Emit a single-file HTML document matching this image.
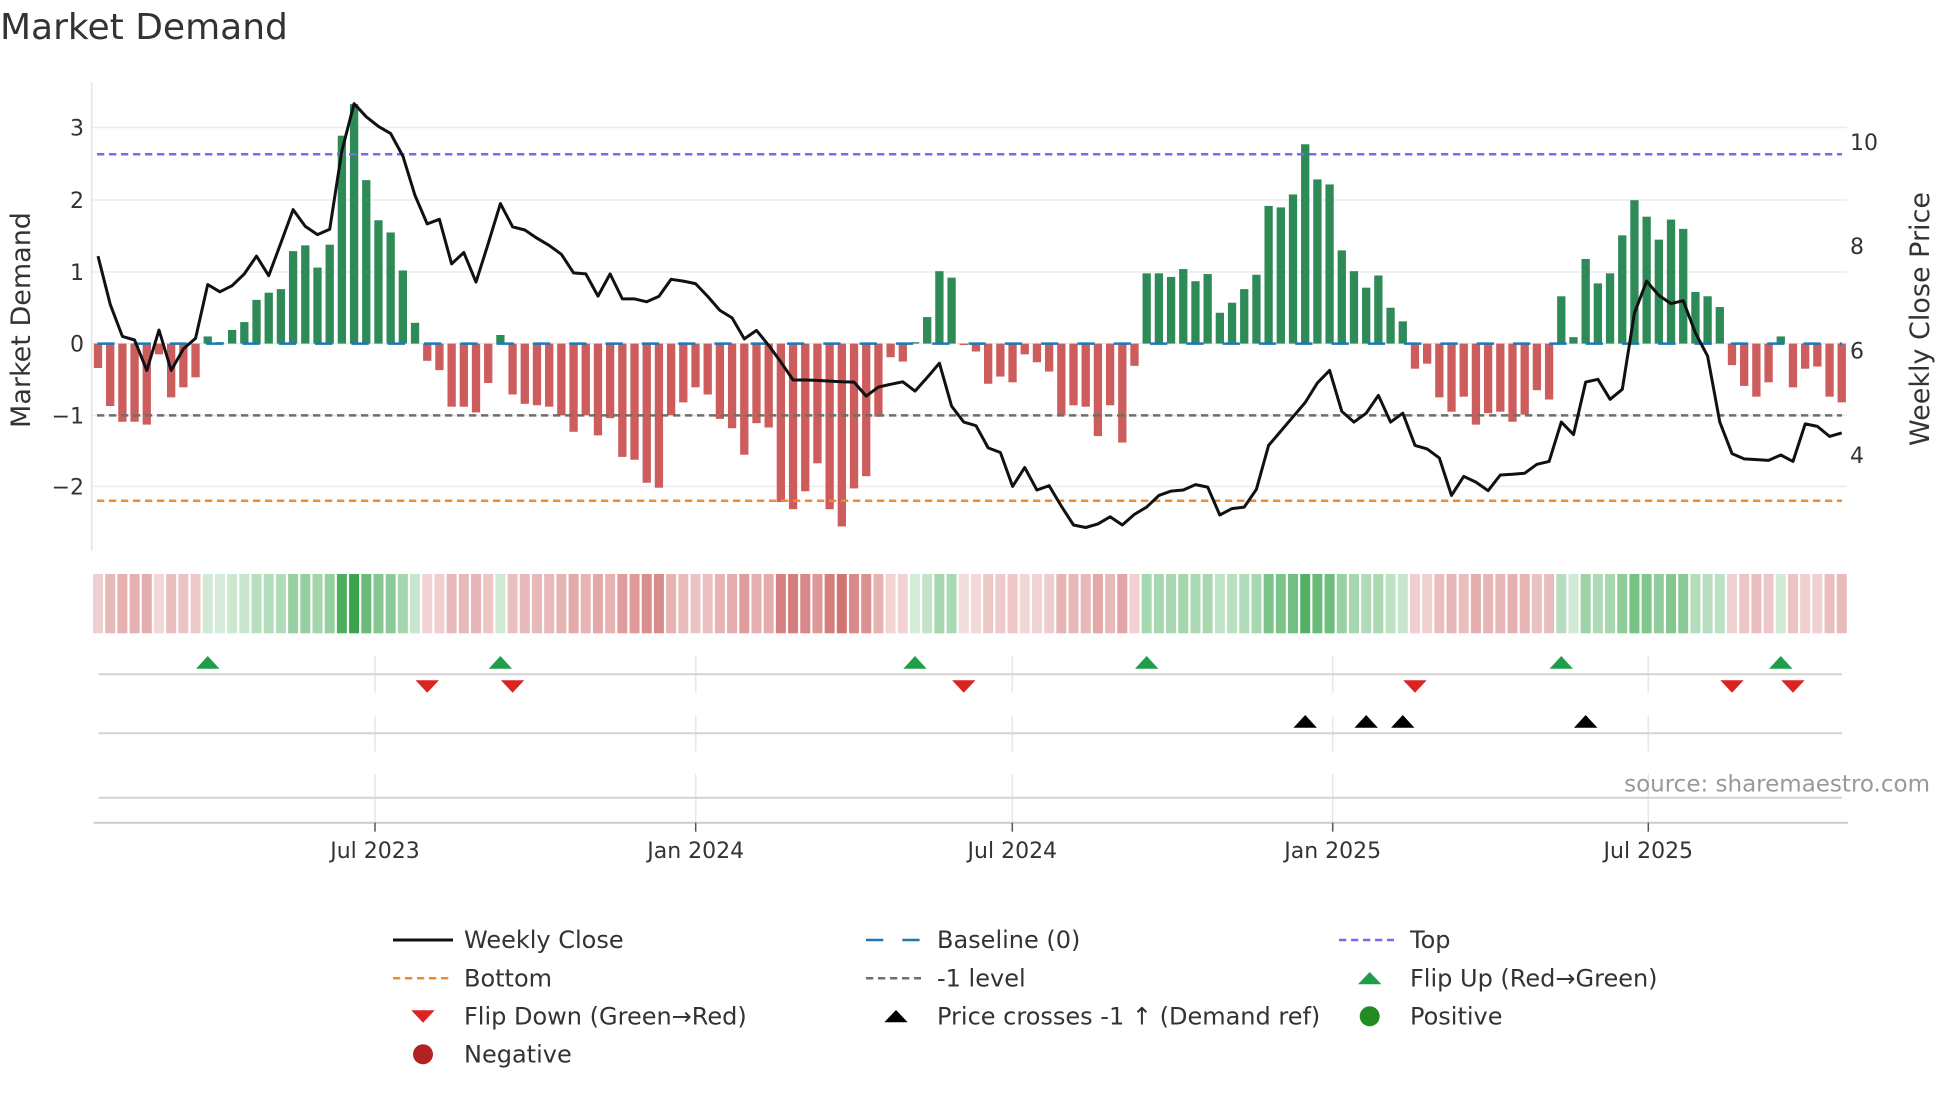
<!DOCTYPE html>
<html><head><meta charset="utf-8"><style>
html,body{margin:0;padding:0;background:#fff;}
svg{display:block;font-family:"DejaVu Sans","Liberation Sans",sans-serif;}
</style></head><body>
<svg id="c" width="1960" height="1102" viewBox="0 0 1960 1102" xmlns="http://www.w3.org/2000/svg">
<rect width="1960" height="1102" fill="#fff"/>
<text x="0" y="39" font-size="36" fill="#333">Market Demand</text>
<g id="grid" stroke="#ececec" stroke-width="1.5">
<line x1="92" y1="127.5" x2="1847" y2="127.5"/><line x1="92" y1="200" x2="1847" y2="200"/><line x1="92" y1="272" x2="1847" y2="272"/><line x1="92" y1="343.6" x2="1847" y2="343.6"/><line x1="92" y1="415.4" x2="1847" y2="415.4"/><line x1="92" y1="486.4" x2="1847" y2="486.4"/>
</g>
<line x1="91.7" y1="82" x2="91.7" y2="551" stroke="#e4e4e4" stroke-width="1.5"/>
<g font-size="22" fill="#333" text-anchor="end">
<text x="84" y="135.5">3</text><text x="84" y="208">2</text><text x="84" y="280">1</text><text x="84" y="351.6">0</text><text x="84" y="423.4">−1</text><text x="84" y="494.4">−2</text>
</g>
<g font-size="22" fill="#333">
<text x="1850" y="149.8">10</text><text x="1850" y="254">8</text><text x="1850" y="358.7">6</text><text x="1850" y="463">4</text>
</g>
<text transform="translate(30,320) rotate(-90)" font-size="27" fill="#333" text-anchor="middle">Market Demand</text>
<text transform="translate(1929,319) rotate(-90)" font-size="27" fill="#333" text-anchor="middle">Weekly Close Price</text>
<g id="bars"></g>
<g id="lvl">
<line x1="97" y1="154.3" x2="1842" y2="154.3" stroke="#7b68ee" stroke-width="2.5" stroke-dasharray="7.3,4.7"/>
<line x1="97" y1="500.7" x2="1842" y2="500.7" stroke="#ef8b2c" stroke-width="2.5" stroke-dasharray="7.3,4.7"/>
<line x1="97" y1="415.4" x2="1842" y2="415.4" stroke="#6e6e6e" stroke-width="2.5" stroke-dasharray="7.3,4.7"/>
<line x1="97.3" y1="343.6" x2="1842" y2="343.6" stroke="#1f77b4" stroke-width="2.5" stroke-dasharray="17.3,19"/>
</g>
<polyline id="price" fill="none" stroke="#111" stroke-width="3" stroke-linejoin="round"/>
<g id="heat"></g>
<g stroke="#e6e6ee" stroke-width="1.5" id="vg"></g>
<g stroke="#d4d4d4" stroke-width="2">
<line x1="98.6" y1="674.3" x2="1842" y2="674.3"/><line x1="98.6" y1="733.3" x2="1842" y2="733.3"/><line x1="98.6" y1="797.7" x2="1842" y2="797.7"/>
<line x1="93.6" y1="822.7" x2="1848" y2="822.7" stroke="#cccccc"/>
</g>
<g id="ticks" font-size="22" fill="#333" text-anchor="middle"></g>
<g id="marks"></g>
<text x="1930" y="791.7" font-size="23" fill="#999" text-anchor="end">source: sharemaestro.com</text>
<g font-size="24" fill="#333">
<line x1="393" y1="940" x2="453" y2="940" stroke="#111" stroke-width="3"/><text x="464" y="948">Weekly Close</text>
<line x1="393" y1="978.3" x2="453" y2="978.3" stroke="#ef8b2c" stroke-width="2.5" stroke-dasharray="7.3,4.7"/><text x="464" y="986.3">Bottom</text>
<polygon points="411.3,1010.3 434.7,1010.3 423,1022.7" fill="#dd2222"/><text x="464" y="1024.3">Flip Down (Green→Red)</text>
<circle cx="423" cy="1054.3" r="10" fill="#b22222"/><text x="464" y="1062.3">Negative</text>
<line x1="866" y1="940" x2="921" y2="940" stroke="#1f77b4" stroke-width="2.5" stroke-dasharray="17.3,19"/><text x="937" y="948">Baseline (0)</text>
<line x1="866" y1="978.3" x2="921" y2="978.3" stroke="#6e6e6e" stroke-width="2.5" stroke-dasharray="7.3,4.7"/><text x="937" y="986.3">-1 level</text>
<polygon points="884.3,1022.3 907.7,1022.3 896,1010" fill="#000"/><text x="937" y="1024.3">Price crosses -1 ↑ (Demand ref)</text>
<line x1="1339" y1="940" x2="1394" y2="940" stroke="#7b68ee" stroke-width="2.5" stroke-dasharray="7.3,4.7"/><text x="1410" y="948">Top</text>
<polygon points="1358,984.3 1381.4,984.3 1369.7,972" fill="#1f9e49"/><text x="1410" y="986.3">Flip Up (Red→Green)</text>
<circle cx="1369.7" cy="1016.3" r="10" fill="#228b22"/><text x="1410" y="1024.3">Positive</text>
</g>
</svg>
<script>
var NS="http://www.w3.org/2000/svg";
function el(t,a,p){var e=document.createElementNS(NS,t);for(var k in a)e.setAttribute(k,a[k]);document.getElementById(p).appendChild(e);return e;}
var v=[-0.34,-0.87,-1.09,-1.09,-1.13,-0.15,-0.75,-0.61,-0.47,0.1,0.02,0.19,0.3,0.61,0.71,0.76,1.29,1.37,1.06,1.38,2.9,3.34,2.28,1.72,1.55,1.02,0.29,-0.24,-0.37,-0.88,-0.88,-0.96,-0.55,0.12,-0.71,-0.84,-0.86,-0.88,
-1.0,-1.23,-1.0,-1.28,-1.04,-1.58,-1.62,-1.94,-2.01,-1.0,-0.82,-0.61,-0.71,-1.05,-1.18,-1.55,-1.11,-1.17,-2.21,-2.31,-2.06,-1.67,-2.31,-2.55,-2.02,-1.85,-1.02,-0.19,-0.25,0.02,0.37,1.01,0.92,-0.02,-0.11,-0.56,
-0.46,-0.54,-0.15,-0.26,-0.39,-1.0,-0.86,-0.88,-1.29,-0.86,-1.38,-0.31,0.98,0.98,0.93,1.04,0.87,0.97,0.43,0.57,0.76,0.96,1.92,1.9,2.08,2.78,2.29,2.22,1.3,1.01,0.78,0.95,0.5,0.31,-0.35,-0.28,-0.75,-0.95,
-0.74,-1.13,-0.97,-0.95,-1.09,-0.99,-0.65,-0.78,0.66,0.09,1.18,0.84,0.98,1.51,2.0,1.77,1.45,1.73,1.6,0.72,0.66,0.51,-0.3,-0.59,-0.74,-0.54,0.1,-0.61,-0.35,-0.32,-0.74,-0.82];
var z=[465,600,690,700,785,672,785,725,695,545,565,548,515,465,520,428,335,382,405,390,170,38,75,102,122,185,295,375,362,487,455,538,430,318,383,392,415,435,
460,512,515,577,515,585,585,593,578,530,535,542,578,617,638,697,673,715,762,812,812,813,815,817,818,857,832,824,817,843,805,765,885,930,940,1002,
1015,1110,1057,1120,1108,1165,1218,1225,1215,1195,1218,1188,1168,1135,1123,1120,1105,1112,1190,1172,1168,1118,995,955,915,875,820,785,900,930,905,855,930,905,995,1005,1030,1135,
1082,1098,1122,1078,1076,1073,1048,1040,930,965,818,810,866,838,625,535,575,598,590,680,745,930,1018,1033,1035,1037,1022,1040,935,942,970,960];
function X(i){return 98+12.194*i;}
var pts=[];
for(var i=0;i<v.length;i++){
 var x=X(i),y0=343.6,y1=343.6-71.7*v[i];
 el("rect",{x:(x-4.15).toFixed(2),y:Math.min(y0,y1).toFixed(2),width:8.3,height:Math.abs(y1-y0).toFixed(2),fill:v[i]>=0?"#2e8b57":"#cd5c5c"},"bars");
 var r,g,b,t;
 if(v[i]>=0){t=Math.min(1,0.2+0.75*v[i]/3.34);r=46;g=160;b=67;}else{t=Math.min(1,0.2+0.62*(-v[i])/2.55);r=200;g=85;b=85;}
 var c="rgb("+Math.round(255+(r-255)*t)+","+Math.round(255+(g-255)*t)+","+Math.round(255+(b-255)*t)+")";
 el("rect",{x:(x-5).toFixed(2),y:574,width:10,height:59.3,fill:c},"heat");
 if(i<z.length)pts.push(x.toFixed(1)+","+(90+z[i]/2.8).toFixed(1));
}
document.getElementById("price").setAttribute("points",pts.join(" "));
var tk=[[375,"Jul 2023"],[695.7,"Jan 2024"],[1012.3,"Jul 2024"],[1332.7,"Jan 2025"],[1648.3,"Jul 2025"]];
tk.forEach(function(t){
 [[656,692.7],[716,751.7],[774,822.7]].forEach(function(s){el("line",{x1:t[0],x2:t[0],y1:s[0],y2:s[1]},"vg");});
 el("line",{x1:t[0],x2:t[0],y1:822.7,y2:831.7,stroke:"#555","stroke-width":1.5},"ticks");
 var e=el("text",{x:t[0],y:858},"ticks");e.textContent=t[1];
});
function up(i,y,col){var x=X(i);el("polygon",{points:(x-11.7)+","+(y+12.7)+" "+(x+11.7)+","+(y+12.7)+" "+x+","+y,fill:col},"marks");}
function dn(i,y,col){var x=X(i);el("polygon",{points:(x-11.7)+","+y+" "+(x+11.7)+","+y+" "+x+","+(y+12.4),fill:col},"marks");}
[9,33,67,86,120,138].forEach(function(i){up(i,656,"#1f9e49");});
[27,34,71,108,134,139].forEach(function(i){dn(i,680.3,"#dd2222");});
[99,104,107,122].forEach(function(i){up(i,715,"#000");});
</script>
</body></html>
